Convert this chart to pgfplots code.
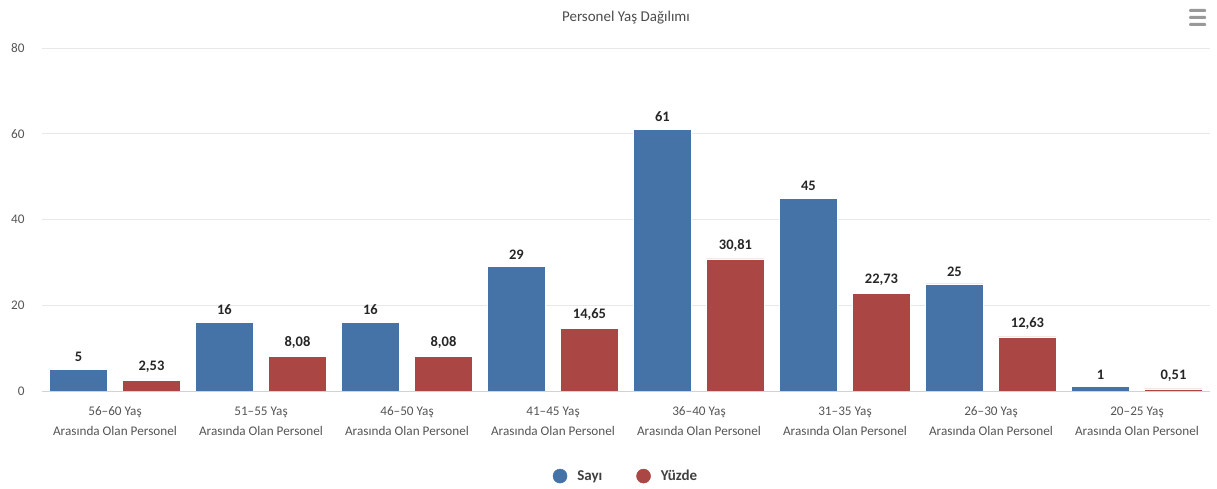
\documentclass[border=0pt]{standalone}
\usepackage{fontspec}
\setmainfont{Carlito}
\usepackage{pgfplots}
\pgfplotsset{compat=1.18}
\definecolor{sayi}{HTML}{4572A7}
\definecolor{yuzde}{HTML}{AA4643}
\definecolor{lbl}{HTML}{555555}
\definecolor{gridc}{HTML}{E8E8E8}
\newcommand{\fs}{\fontsize{13.2}{20}\selectfont}

\begin{document}
\begin{tikzpicture}[x=1pt,y=1pt]
\useasboundingbox (0,0) rectangle (1217,489);
\begin{axis}[at={(42pt,98pt)}, anchor=south west, scale only axis,
  width=1168pt, height=343pt,
  ybar=15pt, bar width=58pt,
  xmin=-0.5, xmax=7.5, ymin=0, ymax=80,
  xtick={0,...,7}, ytick={0,20,...,80},
  xticklabels={{56--60 Yaş\\Arasında Olan Personel},{51--55 Yaş\\Arasında Olan Personel},
    {46--50 Yaş\\Arasında Olan Personel},{41--45 Yaş\\Arasında Olan Personel},
    {36--40 Yaş\\Arasında Olan Personel},{31--35 Yaş\\Arasında Olan Personel},
    {26--30 Yaş\\Arasında Olan Personel},{20--25 Yaş\\Arasında Olan Personel}},
  xticklabel style={font=\fs, text=lbl, align=center, yshift=-12pt},
  yticklabel style={font=\fs, text=lbl, xshift=-14pt},
  /pgf/number format/assume math mode=true,
  major tick length=0pt,
  axis x line*=bottom, axis y line*=left,
  x axis line style={draw=gray!35, line width=0.8pt},
  y axis line style={draw=none},
  ymajorgrids, grid style={gridc, line width=0.8pt},
  nodes near coords={\pgfmathprintnumber[use comma,precision=2,assume math mode=true]{\pgfplotspointmeta}},
  every node near coord/.append style={font=\bfseries\fontsize{14.5}{16}\selectfont, text=black!85, yshift=4pt},
  legend style={at={(0.5,-0.248)}, anchor=center, draw=none, fill=none,
    legend columns=2, font=\bfseries\fontsize{15}{17}\selectfont, text=black!75,
    /tikz/every odd column/.append style={column sep=8pt},
    /tikz/every even column/.append style={column sep=32pt}},
  title={Personel Yaş Dağılımı},
  title style={font=\fontsize{15}{17}\selectfont, text=black!70, at={(0.5,1.07)}, anchor=center},
]
\addplot[fill=sayi, draw=white, line width=0.5pt,
  legend image code/.code={\fill[sayi] (2pt,0pt) circle (7pt);}]
  coordinates {(0,5) (1,16) (2,16) (3,29) (4,61) (5,45) (6,25) (7,1)};
\addplot[fill=yuzde, draw=white, line width=0.5pt,
  legend image code/.code={\fill[yuzde] (2pt,0pt) circle (7pt);}]
  coordinates {(0,2.53) (1,8.08) (2,8.08) (3,14.65) (4,30.81) (5,22.73) (6,12.63) (7,0.51)};
\legend{Sayı,Yüzde}
\end{axis}
\foreach \yy in {477,470,463}
  \fill[gray!80, rounded corners=1pt] (1189,\yy) rectangle (1206,\yy+3);
\end{tikzpicture}
\end{document}
